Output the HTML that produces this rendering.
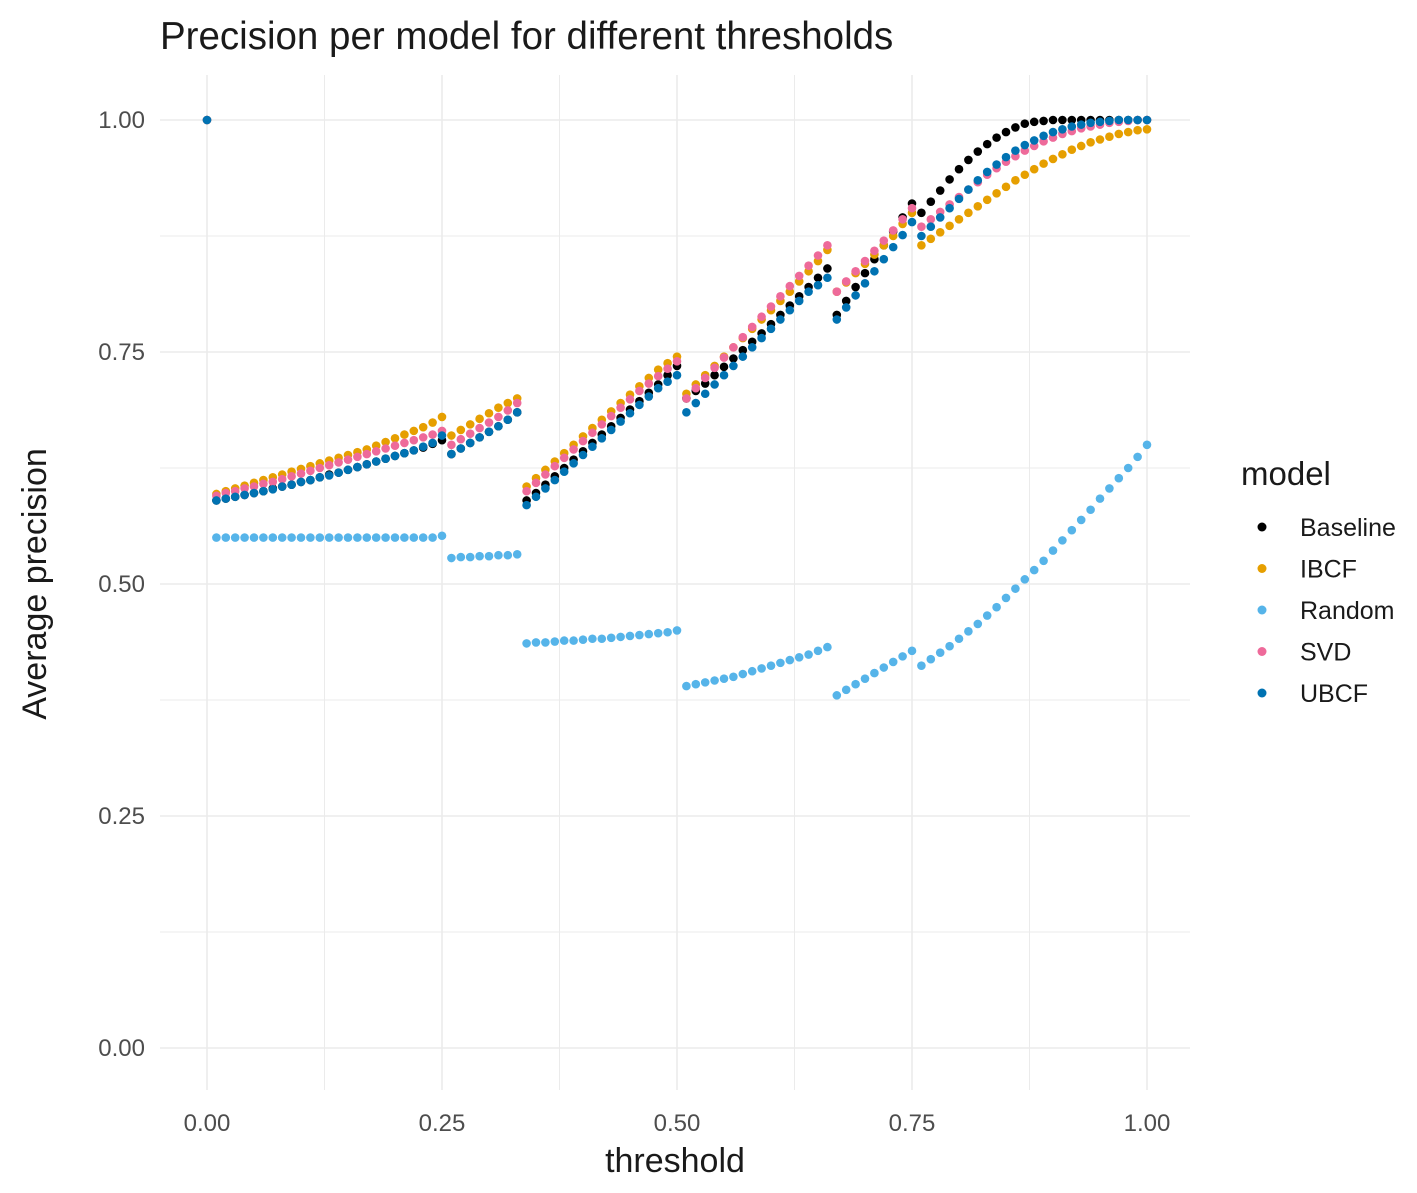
<!DOCTYPE html>
<html><head><meta charset="utf-8"><style>
html,body{margin:0;padding:0;background:#fff}
svg text{font-family:"Liberation Sans",sans-serif}
</style></head><body>
<svg id="chart" width="1417" height="1188" viewBox="0 0 1417 1188" xmlns="http://www.w3.org/2000/svg">
<rect width="1417" height="1188" fill="#fff"/>
<text x="160" y="49" font-size="38.5" fill="#1a1a1a">Precision per model for different thresholds</text>
<g id="grid"></g>
<g id="ticks"></g>
<g id="points"></g>
<text x="675" y="1172" font-size="34" fill="#1a1a1a" text-anchor="middle">threshold</text>
<text transform="translate(46,584) rotate(-90)" font-size="34" fill="#1a1a1a" text-anchor="middle">Average precision</text>
<g id="legend"></g>
</svg>
<script>
const models=["Baseline","IBCF","Random","SVD","UBCF"];
const colors=["#000000","#E69F00","#56B4E9","#EE6A9A","#0072B2"];
const xTicks=[0,0.25,0.5,0.75,1];
const xTickLabels=["0.00","0.25","0.50","0.75","1.00"];
const yTicks=[0,0.25,0.5,0.75,1];
const yTickLabels=["0.00","0.25","0.50","0.75","1.00"];
const thresholds=[];for(let i=0;i<=100;i++)thresholds.push(i/100);
const baseline=[1.0,
0.590,0.592,0.594,0.596,0.598,0.600,0.603,0.605,0.607,0.610,0.612,0.615,0.618,0.620,0.623,0.626,0.629,0.632,0.635,0.638,0.641,0.644,0.647,0.651,0.655,
0.640,0.646,0.652,0.658,0.664,0.670,0.677,0.685,
0.590,0.598,0.607,0.616,0.625,0.634,0.643,0.652,0.661,0.670,0.679,0.688,0.697,0.706,0.715,0.725,0.735,
0.700,0.708,0.716,0.725,0.734,0.743,0.752,0.761,0.770,0.780,0.790,0.800,0.810,0.820,0.830,0.840,
0.790,0.805,0.820,0.835,0.850,0.865,0.880,0.895,0.910,
0.900,0.912,0.924,0.936,0.947,0.957,0.966,0.974,0.981,0.987,0.992,0.996,0.998,0.999,1,1,1,1,1,1,1,1,1,1,1];
const ibcf=[1.0,
0.597,0.600,0.603,0.606,0.609,0.612,0.615,0.618,0.621,0.624,0.627,0.630,0.633,0.636,0.639,0.642,0.645,0.649,0.653,0.657,0.661,0.665,0.669,0.674,0.680,
0.660,0.666,0.672,0.678,0.684,0.690,0.695,0.700,
0.605,0.614,0.623,0.632,0.641,0.650,0.659,0.668,0.677,0.686,0.695,0.704,0.713,0.722,0.731,0.738,0.745,
0.705,0.715,0.725,0.735,0.745,0.755,0.765,0.775,0.785,0.795,0.805,0.815,0.826,0.837,0.848,0.860,
0.815,0.825,0.835,0.845,0.855,0.865,0.875,0.888,0.900,
0.865,0.872,0.879,0.886,0.893,0.900,0.907,0.914,0.921,0.928,0.935,0.941,0.947,0.953,0.958,0.963,0.968,0.972,0.976,0.979,0.982,0.985,0.987,0.989,0.990];
const random=[1.0,
0.550,0.550,0.550,0.550,0.550,0.550,0.550,0.550,0.550,0.550,0.550,0.550,0.550,0.550,0.550,0.550,0.550,0.550,0.550,0.550,0.550,0.550,0.550,0.550,0.552,
0.528,0.529,0.529,0.530,0.530,0.531,0.531,0.532,
0.436,0.437,0.437,0.438,0.439,0.439,0.440,0.441,0.441,0.442,0.443,0.444,0.445,0.446,0.447,0.448,0.450,
0.390,0.392,0.394,0.396,0.398,0.400,0.403,0.406,0.409,0.412,0.415,0.418,0.421,0.424,0.428,0.432,
0.380,0.386,0.392,0.398,0.404,0.410,0.416,0.422,0.428,
0.412,0.419,0.426,0.433,0.441,0.449,0.457,0.466,0.475,0.485,0.495,0.505,0.515,0.525,0.536,0.547,0.558,0.569,0.580,0.592,0.603,0.614,0.625,0.637,0.650];
const svd=[1.0,
0.595,0.598,0.600,0.603,0.605,0.608,0.610,0.613,0.616,0.619,0.622,0.625,0.628,0.631,0.634,0.637,0.640,0.643,0.646,0.649,0.652,0.655,0.658,0.661,0.665,
0.650,0.656,0.662,0.668,0.674,0.680,0.687,0.695,
0.600,0.609,0.618,0.627,0.636,0.645,0.654,0.663,0.672,0.681,0.690,0.699,0.708,0.716,0.724,0.732,0.740,
0.700,0.711,0.722,0.733,0.744,0.755,0.766,0.777,0.788,0.799,0.810,0.821,0.832,0.843,0.854,0.865,
0.815,0.826,0.837,0.848,0.859,0.870,0.881,0.893,0.905,
0.885,0.893,0.901,0.909,0.917,0.925,0.933,0.941,0.948,0.955,0.961,0.967,0.972,0.977,0.981,0.985,0.988,0.991,0.993,0.995,0.997,0.998,0.999,1,1];
const ubcf=[1.0,
0.590,0.592,0.594,0.596,0.598,0.600,0.602,0.605,0.607,0.610,0.612,0.615,0.617,0.620,0.623,0.626,0.629,0.632,0.635,0.638,0.641,0.644,0.648,0.652,0.660,
0.640,0.646,0.652,0.658,0.664,0.670,0.677,0.685,
0.585,0.594,0.603,0.612,0.621,0.630,0.639,0.648,0.657,0.666,0.675,0.684,0.693,0.702,0.711,0.718,0.725,
0.685,0.695,0.705,0.715,0.725,0.735,0.745,0.755,0.765,0.775,0.785,0.795,0.805,0.815,0.822,0.830,
0.785,0.798,0.811,0.824,0.837,0.850,0.863,0.876,0.890,
0.875,0.885,0.895,0.905,0.915,0.925,0.935,0.944,0.952,0.960,0.967,0.973,0.978,0.983,0.987,0.990,0.993,0.995,0.997,0.998,0.999,1,1,1,1];
const series=[baseline,ibcf,random,svd,ubcf];

const NS="http://www.w3.org/2000/svg";
const x=v=>207+v*940;
const y=v=>1048-v*928;
function mk(tag,attrs,parent){const e=document.createElementNS(NS,tag);for(const k in attrs)e.setAttribute(k,attrs[k]);parent.appendChild(e);return e;}
const grid=document.getElementById('grid');
for(let i=0;i<=8;i++){const v=i/8;
 const l=mk('line',{x1:x(v),x2:x(v),y1:75,y2:1090,stroke:'#ebebeb','stroke-width':i%2?1:1.6},grid);
 
 
 const h=mk('line',{x1:160,x2:1190,y1:y(v),y2:y(v),stroke:'#ebebeb','stroke-width':i%2?1:1.6},grid);
 
 
}
const ticks=document.getElementById('ticks');
xTicks.forEach((v,i)=>{const t=mk('text',{x:x(v),y:1131,'font-size':24,fill:'#4d4d4d','text-anchor':'middle'},ticks);t.textContent=xTickLabels[i];
 
 });
yTicks.forEach((v,i)=>{const t=mk('text',{x:145,y:y(v)+8,'font-size':24,fill:'#4d4d4d','text-anchor':'end'},ticks);t.textContent=yTickLabels[i];
 
 });
const pts=document.getElementById('points');
series.forEach((s,si)=>{s.forEach((v,i)=>{const c=mk('circle',{cx:x(thresholds[i]),cy:y(v),r:4.3,fill:colors[si]},pts);
 
 });});
const lg=document.getElementById('legend');
const lt=mk('text',{x:1241,y:485,'font-size':33,fill:'#1a1a1a'},lg);lt.textContent='model';


models.forEach((m,i)=>{const yy=527+i*41.5;
 const c=mk('circle',{cx:1262,cy:yy,r:4.5,fill:colors[i]},lg);
 
 
 const t=mk('text',{x:1300,y:yy+9,'font-size':25,fill:'#1a1a1a'},lg);t.textContent=m;
 
 });
</script>
</body></html>
